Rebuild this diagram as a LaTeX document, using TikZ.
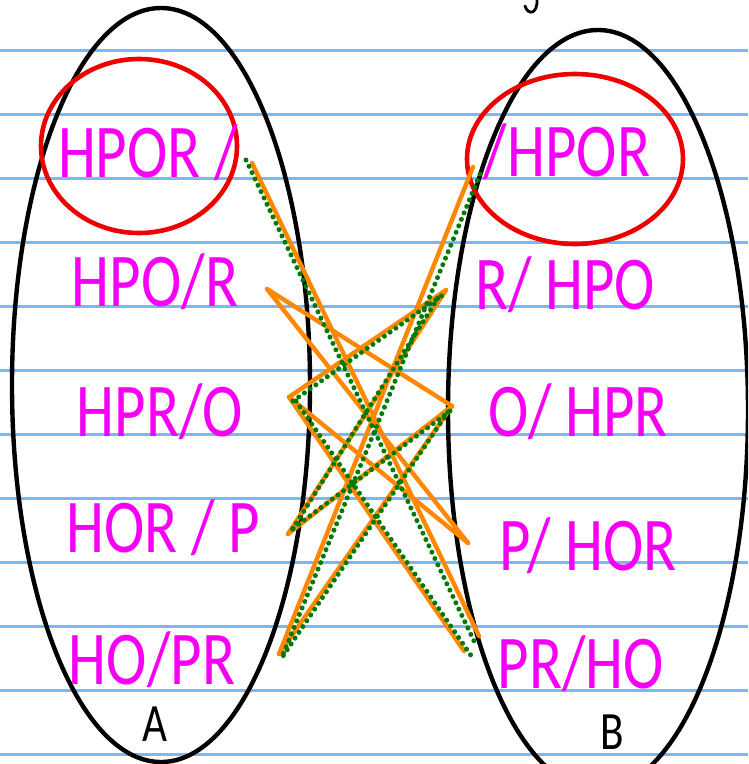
\documentclass[tikz,border=0pt]{standalone}
\usepackage{fontspec}
\newfontfamily\hand{Carlito}[FakeStretch=0.8]
\definecolor{ruleblue}{RGB}{122,184,245}
\definecolor{inkpink}{RGB}{245,0,245}
\definecolor{penorange}{RGB}{255,136,0}
\definecolor{dotgreen}{RGB}{0,122,0}
\definecolor{markred}{RGB}{238,0,0}

\begin{document}
\begin{tikzpicture}[x=1pt,y=-1pt,
  state/.style={text=inkpink,font=\hand\fontsize{76}{78}\selectfont,inner sep=0pt,anchor=base},
  side/.style={font=\hand\fontsize{54}{56}\selectfont,inner sep=0pt,anchor=base},
  link/.style={penorange,line width=4.4pt,line cap=round},
  trail/.style={dotgreen,line width=5pt,line cap=round,dash pattern=on 0pt off 7pt},
  set/.style={black,line width=4.4pt},
  pick/.style={markred,line width=4.6pt}]
\useasboundingbox (0,0) rectangle (748,764);
\clip (0,0) rectangle (748,764);
\fill[white] (0,0) rectangle (748,764);
\foreach \row in {0,...,11}
  \draw[ruleblue,line width=2.4pt] (0,50.5+64*\row) -- (748,50.5+64*\row);
\draw[black,line width=2.8pt,line cap=round] (537,-1) .. controls (538,14) and (528,16) .. (525,6);

\draw[set] (161,385) ellipse [x radius=149,y radius=377];
\draw[set] (598,410) ellipse [x radius=150,y radius=380];
\draw[pick] (139,146) ellipse [x radius=98,y radius=87];
\draw[pick] (575,159) ellipse [x radius=108,y radius=85];

\node[state] (a-hpor) at (148,177) {HPOR /};
\node[state] (a-hpo) at (155,306) {HPO/R};
\node[state] (a-hpr) at (160,436) {HPR/O};
\node[state] (a-hor) at (163,552) {HOR / P};
\node[state] (a-ho) at (152,684) {HO/PR};
\node[state] (b-hpor) at (567,176) {/HPOR};
\node[state] (b-hpo) at (565,309) {R/ HPO};
\node[state] (b-hpr) at (578,436) {O/ HPR};
\node[state] (b-hor) at (588,570) {P/ HOR};
\node[state] (b-ho) at (581,688) {PR/HO};
\node[side] (set-a) at (155,741) {A};
\node[side] (set-b) at (612,749) {B};

\coordinate (a1) at (252,163);
\coordinate (a2) at (267,289);
\coordinate (a3) at (289,397);
\coordinate (a4) at (288,534);
\coordinate (a5) at (279,654);
\coordinate (b1) at (473,167);
\coordinate (b2) at (446,290);
\coordinate (b3) at (452,406);
\coordinate (b4) at (468,543);
\coordinate (b5) at (479,636);
\coordinate (b5l) at (464,651);

\draw[link] (a1) -- (b5);
\draw[link] (a2) -- (b3);
\draw[link] (a2) -- (b4);
\draw[link] (a3) -- (b2);
\draw[link] (a3) -- (b4);
\draw[link] (a3) -- (b5l);
\draw[link] (b1) -- (a5);
\draw[link] (b2) -- (a4);
\draw[link] (b3) -- (a4);
\draw[link] (b3) -- (a5);

\draw[trail] ([shift={(-6,-3)}]a1) -- ([shift={(-5,5)}]b5);
\draw[trail] ([shift={(4,4)}]a3) -- ([shift={(-2,4)}]b2);
\draw[trail] ([shift={(7,4)}]a3) -- ([shift={(8,6)}]b5l);
\draw[trail] ([shift={(7,7)}]b1) -- ([shift={(3,3)}]a5);
\draw[trail] ([shift={(-8,8)}]b2) -- ([shift={(4,-4)}]a4);
\draw[trail] ([shift={(-2,5)}]b3) -- ([shift={(3,-4)}]a4);
\draw[trail] ([shift={(-4,6)}]b3) -- ([shift={(4,2)}]a5);
\end{tikzpicture}
\end{document}
